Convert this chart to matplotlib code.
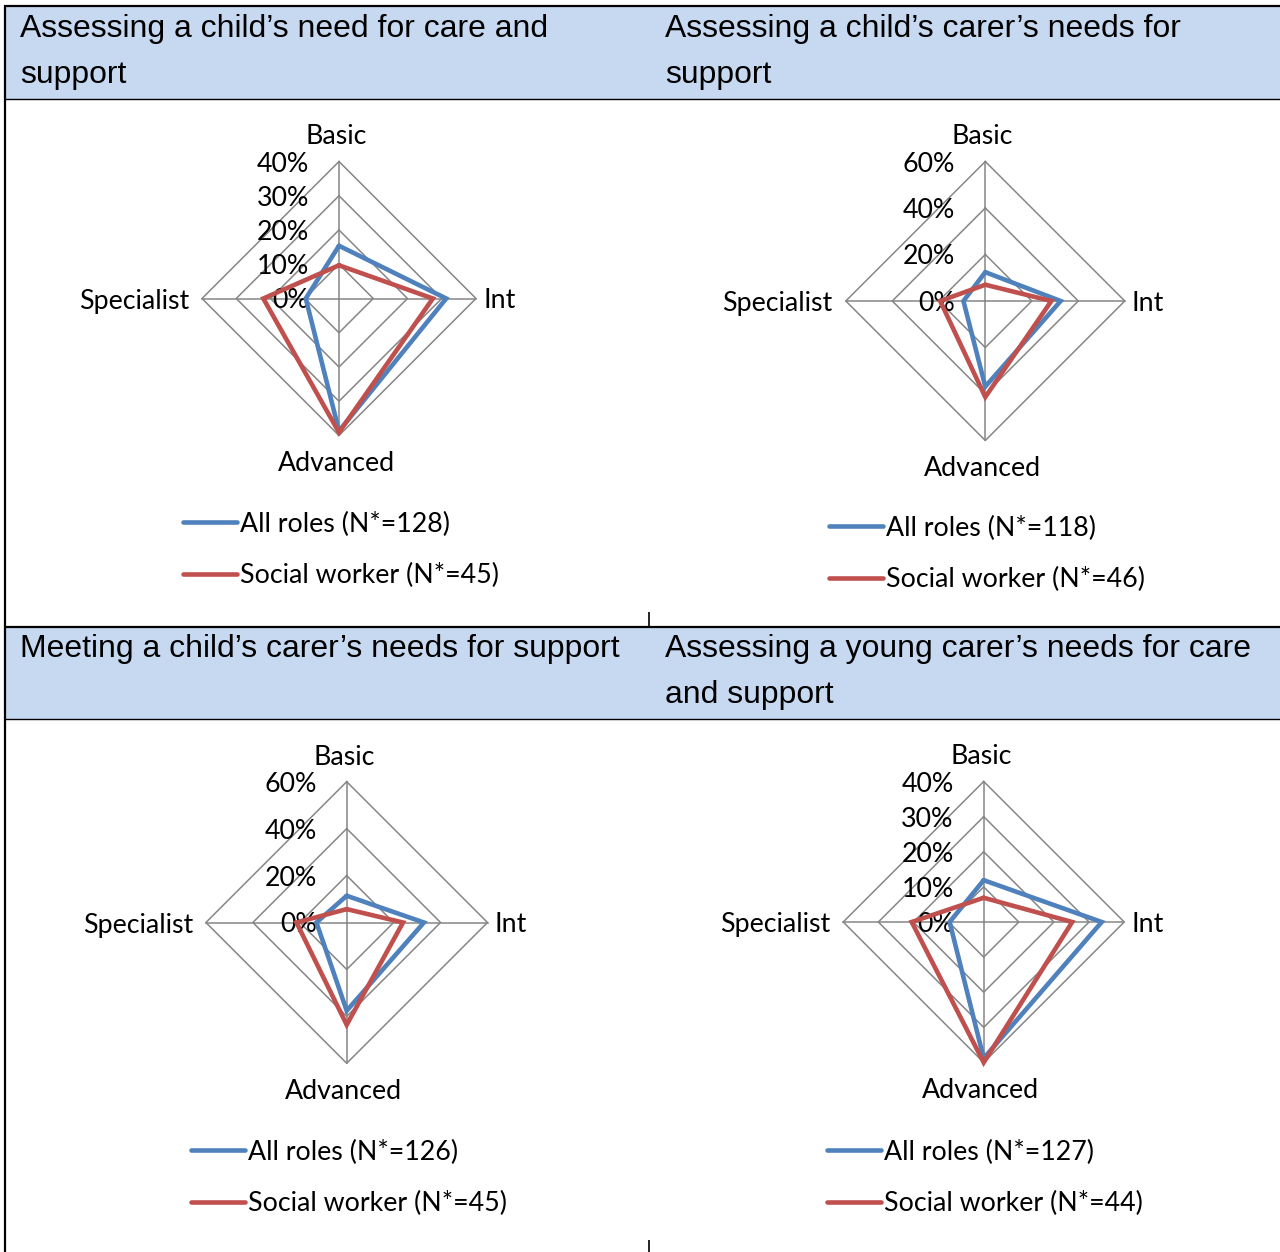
import numpy as np
import matplotlib
matplotlib.use("Agg")
import matplotlib.pyplot as plt
from matplotlib.patches import Rectangle

W, H = 1280, 1252

categories = ["Basic", "Int", "Advanced", "Specialist"]

# share of respondents (%) at each level, all roles vs social workers
child_need_all = [15.4, 31.3, 38.7, 9.7]
child_need_sw = [9.7, 27.4, 39.1, 22.1]
carer_assess_all = [12.4, 32.4, 36.8, 9.4]
carer_assess_sw = [7.0, 28.4, 41.3, 19.4]
carer_meet_all = [11.4, 32.9, 37.6, 12.9]
carer_meet_sw = [5.7, 24.0, 43.6, 21.4]
young_carer_all = [11.9, 33.6, 38.8, 9.7]
young_carer_sw = [6.9, 25.2, 40.0, 20.5]

n_all = [128, 118, 126, 127]
n_sw = [45, 46, 45, 44]

ticks_40 = [0, 10, 20, 30, 40]
ticks_60 = [0, 20, 40, 60]

titles = [
    ["Assessing a child\u2019s need for care and", "support"],
    ["Assessing a child\u2019s carer\u2019s needs for", "support"],
    ["Meeting a child\u2019s carer\u2019s needs for support"],
    ["Assessing a young carer\u2019s needs for care", "and support"],
]

BLUE = "#4F81BD"
RED = "#C0504D"
GRID = "#868686"
HEADER = "#C6D9F1"
LABEL_FONT = "Lato"
LABEL_SIZE = 19.3
TITLE_FONT = "Liberation Sans"
TITLE_SIZE = 22.95

# layout of the four panels, in figure pixels
panels = [
    dict(all=child_need_all, sw=child_need_sw, ticks=ticks_40, c=(339, 298.5), r=137.0,
         leg=(183, 550), title=(20, 37)),
    dict(all=carer_assess_all, sw=carer_assess_sw, ticks=ticks_60, c=(985.3, 301.0), r=139.5,
         leg=(829, 554), title=(665, 37)),
    dict(all=carer_meet_all, sw=carer_meet_sw, ticks=ticks_60, c=(346.7, 922.5), r=140.8,
         leg=(191, 1178), title=(20, 657)),
    dict(all=young_carer_all, sw=young_carer_sw, ticks=ticks_40, c=(983.7, 922.0), r=140.5,
         leg=(827, 1178), title=(665, 657)),
]

theta = np.deg2rad([0, 90, 180, 270])  # clockwise from the top


def to_xy(values):
    v = np.asarray(values, dtype=float)
    x = np.append(v * np.sin(theta), v[0] * np.sin(theta[0]))
    y = np.append(v * np.cos(theta), v[0] * np.cos(theta[0]))
    return x, y


fig = plt.figure(figsize=(W / 100, H / 100), dpi=100)
fig.patch.set_facecolor("white")

# table frame and header bands
bg = fig.add_axes([0, 0, 1, 1], zorder=-5)
bg.set_xlim(0, W)
bg.set_ylim(H, 0)
bg.axis("off")
for top, bottom in [(6, 99), (627, 719)]:
    bg.add_patch(Rectangle((5, top), W - 5, bottom - top, facecolor=HEADER, edgecolor="none"))
    bg.plot([4, W], [top, top], color="black", lw=1.6, solid_capstyle="butt")
    bg.plot([4, W], [bottom, bottom], color="black", lw=1.0, solid_capstyle="butt")
bg.plot([5, 5], [5, H], color="black", lw=1.6, solid_capstyle="butt")
bg.plot([649, 649], [612, 627], color="black", lw=1.2, solid_capstyle="butt")
bg.plot([649, 649], [1240, H], color="black", lw=1.2, solid_capstyle="butt")

for p, lines in zip(panels, titles):
    tx, ty = p["title"]
    for k, line in enumerate(lines):
        bg.text(tx, ty + 46 * k, line, fontsize=TITLE_SIZE, family=TITLE_FONT,
                ha="left", va="baseline", color="black")

label_offsets = {
    "Basic": ((-3, 24.5), "center", "center"),
    "Int": ((7, -2.5), "left", "center"),
    "Advanced": ((-3, -28), "center", "center"),
    "Specialist": ((-13, -2.5), "right", "center"),
}

for i, p in enumerate(panels):
    cx, cy = p["c"]
    R = p["r"]
    rmax = p["ticks"][-1]
    ax = fig.add_axes([(cx - R) / W, 1 - (cy + R) / H, 2 * R / W, 2 * R / H])
    ax.set_xlim(-rmax, rmax)
    ax.set_ylim(-rmax, rmax)
    ax.axis("off")

    # diamond grid rings and spokes
    for t in p["ticks"][1:]:
        gx, gy = to_xy([t] * 4)
        ax.plot(gx, gy, color=GRID, lw=1.1, clip_on=False, zorder=1)
    for th in theta:
        ax.plot([0, rmax * np.sin(th)], [0, rmax * np.cos(th)], color=GRID, lw=1.1,
                clip_on=False, zorder=1)

    # radial tick labels along the top spoke
    for t in p["ticks"]:
        ax.annotate(f"{t}%", xy=(0, t), xytext=(-30, -2.5), textcoords="offset pixels",
                    ha="right", va="center", fontsize=LABEL_SIZE, family=LABEL_FONT,
                    color="black", zorder=2)

    # category labels at the outer vertices
    for cat, th in zip(categories, theta):
        (dx, dy), ha, va = label_offsets[cat]
        ax.annotate(cat, xy=(rmax * np.sin(th), rmax * np.cos(th)), xytext=(dx, dy),
                    textcoords="offset pixels", ha=ha, va=va, fontsize=LABEL_SIZE,
                    family=LABEL_FONT, color="black")

    ax_, ay_ = to_xy(p["all"])
    sx_, sy_ = to_xy(p["sw"])
    l_all, = ax.plot(ax_, ay_, color=BLUE, lw=3.3, clip_on=False, zorder=3,
                     solid_joinstyle="miter", solid_capstyle="round")
    l_sw, = ax.plot(sx_, sy_, color=RED, lw=3.3, clip_on=False, zorder=4,
                    solid_joinstyle="miter", solid_capstyle="round")

    lx, ly = p["leg"]
    ax.legend([l_all, l_sw],
              [f"All roles (N*={n_all[i]})", f"Social worker (N*={n_sw[i]})"],
              loc="center left", bbox_to_anchor=(lx / W, 1 - ly / H),
              bbox_transform=fig.transFigure, frameon=False, borderpad=0,
              borderaxespad=0, handlelength=2.0, handletextpad=0.11,
              labelspacing=0.99, prop=dict(family=LABEL_FONT, size=LABEL_SIZE))

fig.savefig("out.png", dpi=100, facecolor="white")
